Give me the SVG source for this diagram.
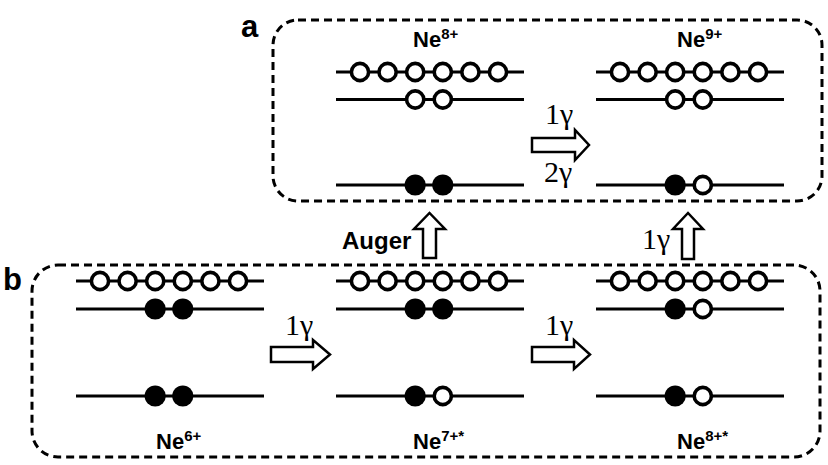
<svg xmlns="http://www.w3.org/2000/svg" width="828" height="465" viewBox="0 0 828 465">
<style>
.box{fill:none;stroke:#000;stroke-width:3;stroke-dasharray:8 5}
.lvl{stroke:#000;stroke-width:3}
.o{fill:#fff;stroke:#000;stroke-width:3.6}
.f{fill:#000}
.arr{fill:#fff;stroke:#000;stroke-width:2.5;stroke-linejoin:miter}
.lbl{font-family:"Liberation Sans",Arial,sans-serif;font-weight:bold;font-size:22px}
.sup{font-size:15px}
.g{font-family:"Liberation Serif","Times New Roman",serif;font-size:30px}
.big{font-family:"Liberation Sans",Arial,sans-serif;font-weight:bold;font-size:31px}
</style>
<rect width="828" height="465" fill="#fff"/>
<g id="box-a">
<rect class="box" x="273" y="20" width="549" height="181" rx="25" ry="25"/>
<text class="big" x="241" y="37">a</text>
</g>
<g id="box-b">
<rect class="box" x="32" y="265" width="788" height="192" rx="26" ry="26"/>
<text class="big" x="3" y="290">b</text>
</g>
<g id="ne8-a" transform="translate(336,0)">
<line class="lvl" x1="0" y1="72" x2="188" y2="72"/>
<line class="lvl" x1="0" y1="99.5" x2="188" y2="99.5"/>
<line class="lvl" x1="0" y1="185" x2="188" y2="185"/>
<circle class="o" cx="24" cy="72" r="8.6"/><circle class="o" cx="51.6" cy="72" r="8.6"/><circle class="o" cx="79.2" cy="72" r="8.6"/><circle class="o" cx="106.8" cy="72" r="8.6"/><circle class="o" cx="134.4" cy="72" r="8.6"/><circle class="o" cx="162" cy="72" r="8.6"/>
<circle class="o" cx="79.2" cy="99.5" r="8.6"/><circle class="o" cx="106.8" cy="99.5" r="8.6"/>
<circle class="f" cx="79.2" cy="185" r="10.6"/><circle class="f" cx="106.8" cy="185" r="10.6"/>
<text class="lbl" x="77" y="47">Ne<tspan class="sup" dy="-8">8+</tspan></text>
</g>
<g id="ne9-a" transform="translate(596,0)">
<line class="lvl" x1="0" y1="72" x2="188" y2="72"/>
<line class="lvl" x1="0" y1="99.5" x2="188" y2="99.5"/>
<line class="lvl" x1="0" y1="185" x2="188" y2="185"/>
<circle class="o" cx="24" cy="72" r="8.6"/><circle class="o" cx="51.6" cy="72" r="8.6"/><circle class="o" cx="79.2" cy="72" r="8.6"/><circle class="o" cx="106.8" cy="72" r="8.6"/><circle class="o" cx="134.4" cy="72" r="8.6"/><circle class="o" cx="162" cy="72" r="8.6"/>
<circle class="o" cx="79.2" cy="99.5" r="8.6"/><circle class="o" cx="106.8" cy="99.5" r="8.6"/>
<circle class="f" cx="79.2" cy="185" r="10.6"/><circle class="o" cx="106.8" cy="185" r="8.6"/>
<text class="lbl" x="81" y="47">Ne<tspan class="sup" dy="-8">9+</tspan></text>
</g>
<g id="ne6-b" transform="translate(76,0)">
<line class="lvl" x1="0" y1="281" x2="188" y2="281"/>
<line class="lvl" x1="0" y1="309" x2="188" y2="309"/>
<line class="lvl" x1="0" y1="396" x2="188" y2="396"/>
<circle class="o" cx="24" cy="281" r="8.6"/><circle class="o" cx="51.6" cy="281" r="8.6"/><circle class="o" cx="79.2" cy="281" r="8.6"/><circle class="o" cx="106.8" cy="281" r="8.6"/><circle class="o" cx="134.4" cy="281" r="8.6"/><circle class="o" cx="162" cy="281" r="8.6"/>
<circle class="f" cx="79.2" cy="309" r="10.6"/><circle class="f" cx="106.8" cy="309" r="10.6"/>
<circle class="f" cx="79.2" cy="396" r="10.6"/><circle class="f" cx="106.8" cy="396" r="10.6"/>
<text class="lbl" x="80" y="449">Ne<tspan class="sup" dy="-8">6+</tspan></text>
</g>
<g id="ne7-b" transform="translate(336,0)">
<line class="lvl" x1="0" y1="281" x2="188" y2="281"/>
<line class="lvl" x1="0" y1="309" x2="188" y2="309"/>
<line class="lvl" x1="0" y1="396" x2="188" y2="396"/>
<circle class="o" cx="24" cy="281" r="8.6"/><circle class="o" cx="51.6" cy="281" r="8.6"/><circle class="o" cx="79.2" cy="281" r="8.6"/><circle class="o" cx="106.8" cy="281" r="8.6"/><circle class="o" cx="134.4" cy="281" r="8.6"/><circle class="o" cx="162" cy="281" r="8.6"/>
<circle class="f" cx="79.2" cy="309" r="10.6"/><circle class="f" cx="106.8" cy="309" r="10.6"/>
<circle class="f" cx="79.2" cy="396" r="10.6"/><circle class="o" cx="106.8" cy="396" r="8.6"/>
<text class="lbl" x="77" y="449">Ne<tspan class="sup" dy="-8">7+*</tspan></text>
</g>
<g id="ne8-b" transform="translate(596,0)">
<line class="lvl" x1="0" y1="281" x2="188" y2="281"/>
<line class="lvl" x1="0" y1="309" x2="188" y2="309"/>
<line class="lvl" x1="0" y1="396" x2="188" y2="396"/>
<circle class="o" cx="24" cy="281" r="8.6"/><circle class="o" cx="51.6" cy="281" r="8.6"/><circle class="o" cx="79.2" cy="281" r="8.6"/><circle class="o" cx="106.8" cy="281" r="8.6"/><circle class="o" cx="134.4" cy="281" r="8.6"/><circle class="o" cx="162" cy="281" r="8.6"/>
<circle class="f" cx="79.2" cy="309" r="10.6"/><circle class="o" cx="106.8" cy="309" r="8.6"/>
<circle class="f" cx="79.2" cy="396" r="10.6"/><circle class="o" cx="106.8" cy="396" r="8.6"/>
<text class="lbl" x="81" y="449">Ne<tspan class="sup" dy="-8">8+*</tspan></text>
</g>
<g id="connectors">
<path class="arr" d="M532,138 H575 V130 L589,145 L575,160 V152 H532 Z"/>
<text class="g" x="545" y="124">1γ</text>
<text class="g" x="544" y="182">2γ</text>
<path class="arr" d="M271,347 H313 V340 L330,354.5 L313,369 V362 H271 Z"/>
<text class="g" x="285" y="335">1γ</text>
<path class="arr" d="M532,347 H574 V340 L590,354.5 L574,369 V362 H532 Z"/>
<text class="g" x="545" y="335">1γ</text>
<path class="arr" d="M423,258 V229 H414 L429.5,213 L445,229 H436 V258 Z"/>
<text class="lbl" x="342" y="249" style="font-size:24px">Auger</text>
<path class="arr" d="M682,259 V229 H673 L688,213 L703,229 H694 V259 Z"/>
<text class="g" x="642" y="249">1γ</text>
</g>
</svg>
